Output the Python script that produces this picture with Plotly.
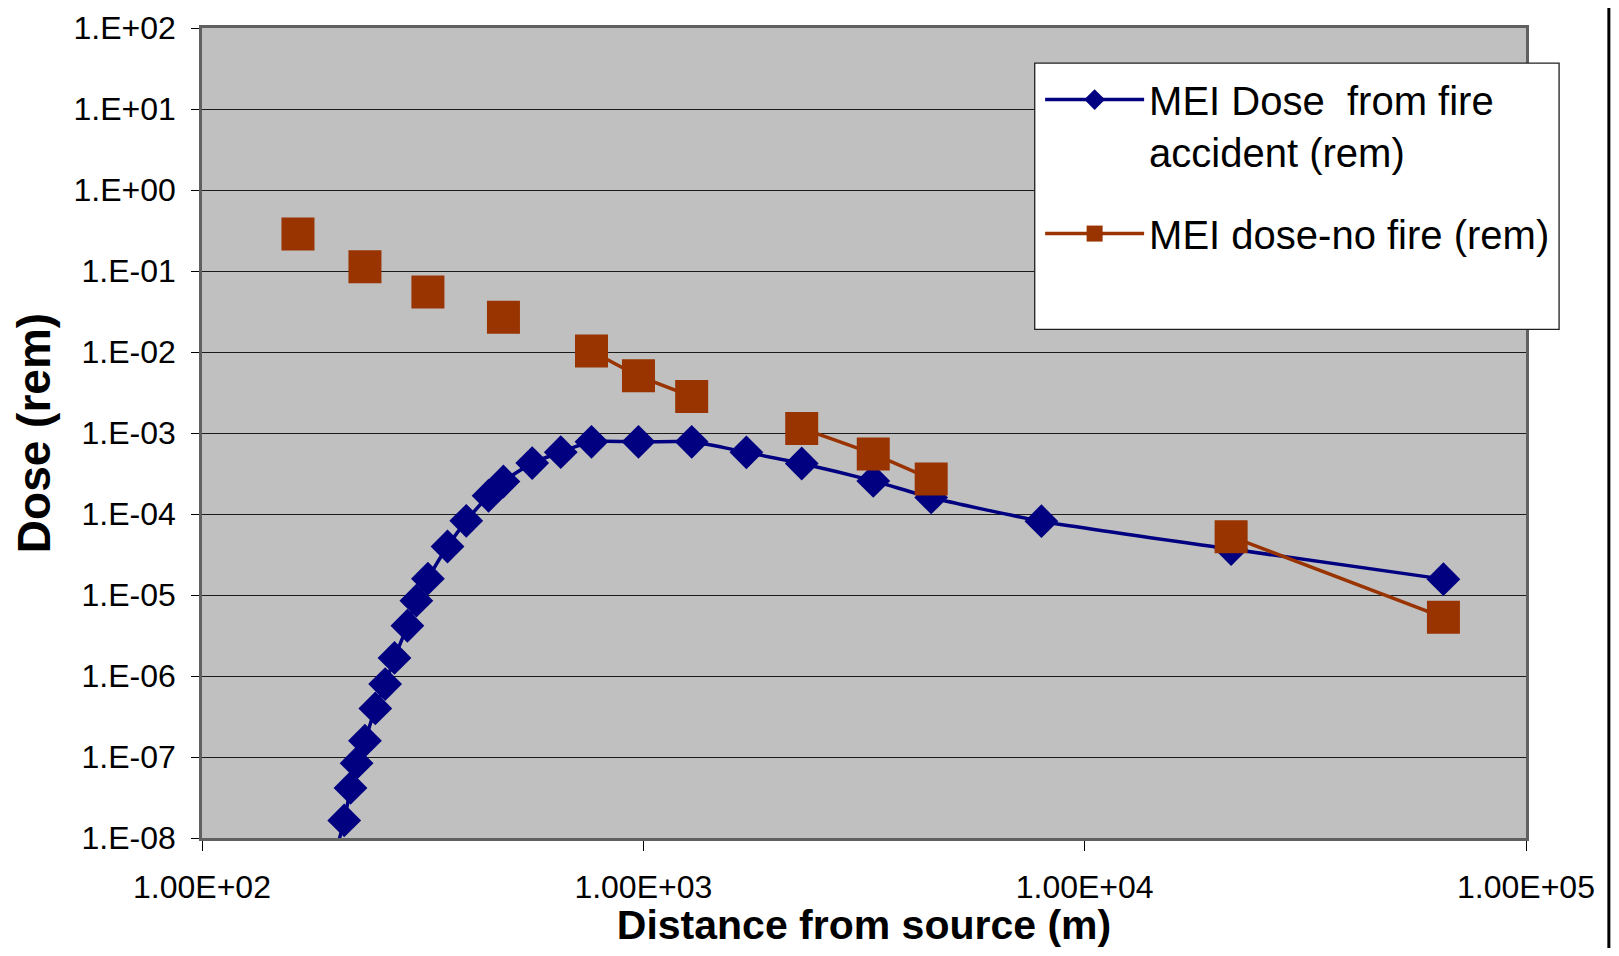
import plotly.graph_objects as go

# ---------------- data ----------------
distance_m = [165, 210, 217, 224, 234, 247, 260, 273, 292, 306, 325, 360, 397, 446, 482,
              560, 650, 763, 975, 1287, 1712, 2285, 3319, 4490, 7980, 21470, 65000]
dose_fire = [1.5e-10, 1.65e-8, 4.15e-8, 8.4e-8, 1.59e-7, 3.98e-7, 7.96e-7, 1.67e-6, 4.17e-6,
             8.5e-6, 1.59e-5, 3.97e-5, 8.24e-5, 1.68e-4, 2.52e-4, 4.25e-4, 5.8e-4, 7.78e-4,
             7.78e-4, 7.78e-4, 5.77e-4, 4.2e-4, 2.56e-4, 1.6e-4, 8.15e-5, 3.69e-5, 1.57e-5]
dose_nofire = [0.286, None, None, None, 0.113, None, None, None, None, None, 0.0551, None,
               None, None, 0.0269, None, None, 0.0103, 0.0051, 0.00283, None, 0.00114,
               5.5e-4, 2.7e-4, None, 5.25e-5, 5.3e-6]

y_tick_vals = [1e-8, 1e-7, 1e-6, 1e-5, 1e-4, 1e-3, 1e-2, 1e-1, 1e0, 1e1, 1e2]
y_tick_text = ["1.E-08", "1.E-07", "1.E-06", "1.E-05", "1.E-04", "1.E-03", "1.E-02",
               "1.E-01", "1.E+00", "1.E+01", "1.E+02"]
x_tick_vals = [1e2, 1e3, 1e4, 1e5]
x_tick_text = ["1.00E+02", "1.00E+03", "1.00E+04", "1.00E+05"]

name_fire = "MEI Dose  from fire<br>accident (rem)"
name_nofire = "MEI dose-no fire (rem)"

BLUE = "#000080"
ORANGE = "#993300"
ARIAL = "Liberation Sans, Arial, sans-serif"

# page body has an 8px margin: figure is drawn 8px right/down
OFF = 8
W, H = 1619 - 2 * OFF, 956 - 2 * OFF
L, R, T, B = 201.5 - OFF, 1526.1 - OFF, 27.9 - OFF, 838.4 - OFF

fig = go.Figure()
fig.add_trace(go.Scatter(
    x=distance_m, y=dose_fire, name=name_fire, mode="lines+markers",
    legendgroup="fire",
    line=dict(color=BLUE, width=3.5, shape="spline", smoothing=0.6),
    marker=dict(symbol="diamond", size=26, color=BLUE, line=dict(width=0)),
))
fig.add_trace(go.Scatter(
    x=distance_m, y=dose_nofire, name=name_nofire, mode="lines+markers",
    legendgroup="nofire",
    connectgaps=False,
    line=dict(color=ORANGE, width=3.5, shape="spline", smoothing=0.6),
    marker=dict(symbol="square", size=33, color=ORANGE, line=dict(width=0)),
))

pw = R - L
ph = B - T
def px(xs):  # screen x (reference pixels) -> paper
    return (xs - OFF - L) / pw
def py(ys):  # screen y (reference pixels) -> paper
    return (B - (ys - OFF)) / ph

fig.update_layout(
    width=W, height=H,
    margin=dict(l=L, r=W - R, t=T, b=H - B, pad=0, autoexpand=False),
    paper_bgcolor="white",
    plot_bgcolor="#C0C0C0",
    showlegend=True,
    legend=dict(
        x=px(1040), y=py(67), xanchor="left", yanchor="top",
        bgcolor="rgba(0,0,0,0)", borderwidth=0,
        font=dict(family=ARIAL, size=40, color="black"),
        tracegroupgap=27, itemsizing="trace", itemwidth=99, valign="top",
    ),
    shapes=[
        dict(type="rect", xref="paper", yref="paper", x0=px(1034.6), x1=px(1559.2),
             y0=py(329.4), y1=py(63), fillcolor="white",
             line=dict(color="#202020", width=1.3), layer="above"),
        dict(type="line", xref="paper", yref="paper", x0=px(1609), x1=px(1609),
             y0=py(956), y1=py(0), line=dict(color="black", width=3)),
    ],
)

fig.update_xaxes(
    type="log", range=[2, 5],
    tickvals=x_tick_vals, ticktext=x_tick_text,
    tickfont=dict(family=ARIAL, size=32, color="black"),
    ticks="outside", ticklen=10, tickcolor="black", tickwidth=1,
    ticklabelstandoff=9,
    showgrid=False, zeroline=False,
    showline=True, linecolor="#606060", linewidth=2.5, mirror=True,
    title=dict(text="<b>Distance from source (m)</b>",
               font=dict(family=ARIAL, size=41, color="black"), standoff=22),
)
fig.update_yaxes(
    type="log", range=[-8, 2],
    tickvals=y_tick_vals, ticktext=y_tick_text,
    tickfont=dict(family=ARIAL, size=32, color="black"),
    ticks="outside", ticklen=8, tickcolor="black", tickwidth=1,
    ticklabelstandoff=9,
    showgrid=True, gridcolor="#1a1a1a", gridwidth=1.2,
    zeroline=False,
    showline=True, linecolor="#606060", linewidth=2.5, mirror=True,
    title=dict(text="<b>Dose (rem)</b>",
               font=dict(family=ARIAL, size=46, color="black"), standoff=16),
)

fig.write_html("out.html")
